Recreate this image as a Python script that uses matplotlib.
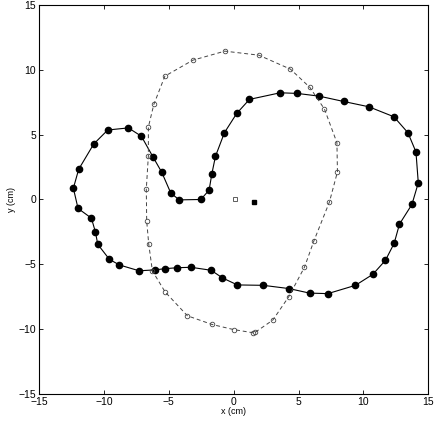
import matplotlib
matplotlib.use("agg")
import matplotlib.pyplot as plt
import numpy as np

plt.rcParams["font.family"] = ["Liberation Sans", "DejaVu Sans"]

# solid contour (filled dots), closed loop
solid_x = [-2.53, -1.89, -1.68, -1.40, -0.71, 0.24, 1.22, 3.59, 4.90, 6.59,
           8.47, 10.42, 12.35, 13.43, 14.05, 14.23, 13.74, 12.78, 12.37, 11.70,
           10.73, 9.39, 7.26, 5.85, 4.26, 2.28, 0.29, -0.86, -1.73, -3.28,
           -4.34, -5.32, -6.08, -7.28, -8.80, -9.57, -10.47, -10.65, -10.96, -11.99,
           -12.35, -11.94, -10.78, -9.70, -8.11, -7.11, -6.23, -5.54, -4.84, -4.19]
solid_y = [0.00, 0.72, 1.97, 3.33, 5.15, 6.64, 7.72, 8.23, 8.18, 7.97,
           7.56, 7.15, 6.38, 5.15, 3.67, 1.28, -0.38, -1.90, -3.38, -4.69,
           -5.77, -6.62, -7.26, -7.22, -6.87, -6.62, -6.59, -6.05, -5.46, -5.23,
           -5.26, -5.34, -5.43, -5.50, -5.05, -4.62, -3.46, -2.51, -1.44, -0.69,
           0.87, 2.33, 4.28, 5.36, 5.52, 4.88, 3.31, 2.10, 0.49, -0.03]

# dashed contour (open circles)
dash_x = [1.68, 3.02, 4.24, 5.46, 6.18, 7.38, 8.00, 7.96, 7.00, 5.87,
          4.38, 1.94, -0.68, -3.15, -5.30, -6.15, -6.57, -6.57, -6.73, -6.70,
          -6.54, -6.26, -5.28, -3.56, -1.66, -0.01, 1.50]
dash_y = [-10.23, -9.30, -7.51, -5.22, -3.21, -0.20, 2.13, 4.38, 6.97, 8.65,
          10.05, 11.13, 11.44, 10.74, 9.51, 7.33, 5.59, 3.38, 0.80, -1.66,
          -3.46, -5.51, -7.13, -8.97, -9.64, -10.03, -10.28]

# centre markers
open_sq = (0.14, 0.0)
filled_sq = (1.60, -0.2)

fig = plt.figure(figsize=(4.36, 4.23), dpi=100)
ax = fig.add_axes([0.0894, 0.0686, 0.8929, 0.9196])

sx = solid_x + solid_x[:1]
sy = solid_y + solid_y[:1]
ax.plot(sx, sy, "-", color="black", linewidth=0.8)
ax.plot(solid_x, solid_y, "o", color="black", markersize=4.5)

ax.plot(dash_x, dash_y, "--", color="#444444", linewidth=0.7, dashes=(4, 3),
        marker="o", markersize=3.3, markerfacecolor="none",
        markeredgecolor="#444444", markeredgewidth=0.6)

ax.plot(*open_sq, "s", markersize=3, markerfacecolor="none",
        markeredgecolor="#444444", markeredgewidth=0.6)
ax.plot(*filled_sq, "s", markersize=3.3, color="black")

ax.set_xlim(-15, 15)
ax.set_ylim(-15, 15)
ax.set_xticks(np.arange(-15, 16, 5))
ax.set_yticks(np.arange(-15, 16, 5))
ax.tick_params(direction="in", length=3, width=0.6, labelsize=7.5,
               top=True, right=True, pad=2)
ax.set_xticklabels([f"\u2212{abs(v)}" if v < 0 else str(v) for v in range(-15, 16, 5)])
ax.set_yticklabels([f"\u2212{abs(v)}" if v < 0 else str(v) for v in range(-15, 16, 5)])
for s in ax.spines.values():
    s.set_linewidth(0.8)
ax.set_xlabel("x (cm)", fontsize=6.5, labelpad=0)
ax.set_ylabel("y (cm)", fontsize=6.5, labelpad=2)

fig.savefig("out.png", dpi=100)
